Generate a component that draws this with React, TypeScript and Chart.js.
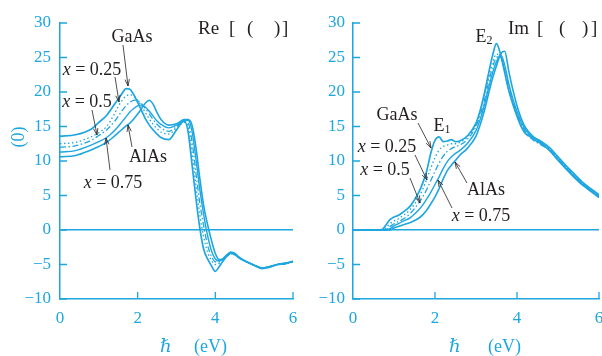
import React, { useEffect, useRef } from 'react';
import { Chart, registerables } from 'chart.js';
Chart.register(...registerables);

const BLUE = '#1ea6e0';
const INK = '#231f20';
const FONT = '"Liberation Serif", "DejaVu Serif", serif';

// ---------- data: Re part (left panel) ----------
const energyRe = [0, 0.4, 0.8, 1.0, 1.2, 1.4, 1.5, 1.6, 1.7, 1.8, 1.9, 2.0, 2.1, 2.2, 2.3, 2.4, 2.5, 2.6, 2.8, 3.0, 3.2, 3.3, 3.4, 3.5, 3.6, 3.7, 3.8, 3.9, 4.0, 4.1, 4.2, 4.3, 4.4, 4.5, 4.6, 4.8, 5.0, 5.2, 5.4, 5.6, 5.8, 6.0];
const reGaAs = [13.6, 13.8, 14.6, 15.6, 16.6, 18.2, 19.0, 19.8, 20.5, 20.4, 19.6, 18.5, 17.3, 16.1, 15.2, 14.5, 13.9, 13.4, 13.1, 14.5, 15.8, 14.2, 9.5, 4.6, 0.3, -2.8, -4.2, -5.2, -6.0, -5.3, -4.5, -3.8, -3.3, -3.4, -3.9, -4.6, -5.1, -5.6, -5.4, -5.0, -4.9, -4.5];
const reX025 = [12.5, 12.7, 13.5, 14.1, 15.0, 16.8, 17.9, 18.8, 19.4, 19.6, 19.4, 18.8, 18.0, 17.0, 16.1, 15.3, 14.7, 14.2, 13.9, 14.8, 15.6, 15.0, 11.2, 6.5, 2.2, -1.0, -3.2, -4.4, -5.0, -4.8, -4.3, -3.8, -3.5, -3.5, -3.9, -4.6, -5.1, -5.5, -5.4, -5.0, -4.9, -4.6];
const reX050 = [12.0, 12.2, 13.0, 13.7, 14.5, 15.7, 16.5, 17.3, 18.0, 18.5, 18.8, 18.7, 18.3, 17.6, 16.8, 16.0, 15.3, 14.8, 14.3, 15.0, 15.7, 15.5, 12.8, 8.3, 3.9, 0.6, -2.2, -3.8, -4.6, -4.6, -4.2, -3.7, -3.5, -3.6, -4.0, -4.6, -5.1, -5.5, -5.3, -5.0, -4.9, -4.6];
const reX075 = [11.3, 11.5, 12.3, 12.8, 13.4, 14.4, 15.0, 15.7, 16.4, 17.1, 17.6, 18.0, 18.1, 17.8, 17.2, 16.5, 15.8, 15.3, 14.8, 15.2, 15.8, 15.9, 14.3, 10.3, 5.9, 2.2, -0.8, -3.0, -4.2, -4.5, -4.1, -3.6, -3.3, -3.5, -4.0, -4.6, -5.1, -5.5, -5.3, -5.0, -4.8, -4.6];
const reAlAs = [10.6, 10.8, 11.6, 12.1, 12.7, 13.6, 14.1, 14.6, 15.1, 15.5, 16.1, 16.8, 17.6, 18.4, 18.8, 18.2, 17.0, 16.0, 15.2, 15.4, 16.0, 16.0, 15.2, 12.0, 7.5, 3.5, 0.8, -1.5, -3.4, -4.3, -4.2, -3.6, -3.2, -3.4, -4.0, -4.6, -5.1, -5.5, -5.3, -5.0, -4.8, -4.6];

// ---------- data: Im part (right panel) ----------
const energyIm = [0, 0.6, 0.7, 0.8, 0.9, 1.0, 1.1, 1.2, 1.4, 1.6, 1.7, 1.8, 1.9, 2.0, 2.1, 2.2, 2.3, 2.4, 2.5, 2.6, 2.8, 3.0, 3.1, 3.2, 3.3, 3.4, 3.5, 3.6, 3.7, 3.8, 3.9, 4.0, 4.1, 4.2, 4.4, 4.6, 4.8, 5.0, 5.2, 5.4, 5.6, 5.8, 6.0];
const imGaAs = [0, 0, 0.05, 0.7, 1.5, 1.9, 2.1, 2.5, 3.5, 5.4, 6.8, 8.6, 11.2, 13.0, 13.5, 12.8, 12.9, 13.1, 12.8, 12.9, 13.7, 15.5, 17.3, 19.7, 22.5, 25.2, 27.0, 25.4, 22.8, 20.2, 18.2, 16.5, 15.0, 14.0, 13.4, 12.8, 11.9, 10.6, 9.3, 8.1, 6.9, 6.0, 5.1];
const imX025 = [0, 0, 0, 0.3, 0.9, 1.3, 1.6, 2.0, 3.0, 4.7, 5.9, 7.4, 9.0, 10.5, 11.6, 12.1, 12.3, 12.5, 12.5, 12.7, 13.5, 15.3, 17.0, 19.2, 21.8, 24.2, 25.5, 25.0, 22.8, 20.3, 18.4, 16.7, 15.2, 14.1, 13.1, 12.5, 11.7, 10.4, 9.1, 7.9, 6.8, 5.9, 5.0];
const imX050 = [0, 0, 0, 0.1, 0.5, 0.9, 1.2, 1.5, 2.4, 3.9, 4.8, 5.9, 7.2, 8.5, 9.7, 10.7, 11.4, 11.8, 12.1, 12.3, 13.2, 15.0, 16.6, 18.7, 21.2, 23.5, 25.0, 25.2, 23.2, 20.6, 18.6, 16.9, 15.4, 14.3, 13.0, 12.3, 11.6, 10.3, 9.0, 7.8, 6.7, 5.8, 4.9];
const imX075 = [0, 0, 0, 0, 0.2, 0.6, 0.9, 1.2, 1.8, 2.9, 3.6, 4.5, 5.5, 6.6, 7.7, 8.9, 9.9, 10.6, 11.1, 11.5, 12.6, 14.4, 16.0, 18.0, 20.4, 22.7, 24.4, 25.4, 23.9, 21.2, 19.0, 17.2, 15.7, 14.6, 13.2, 12.4, 11.5, 10.2, 8.9, 7.7, 6.6, 5.7, 4.8];
const imAlAs = [0, 0, 0, 0, 0, 0.3, 0.5, 0.7, 1.1, 1.7, 2.2, 2.9, 3.8, 4.8, 6.0, 7.4, 8.6, 9.4, 10.1, 10.8, 11.9, 13.6, 15.2, 17.2, 19.6, 21.9, 23.8, 25.5, 25.9, 23.0, 20.3, 18.0, 16.2, 14.9, 13.5, 12.6, 11.5, 10.1, 8.8, 7.6, 6.5, 5.6, 4.7];

const seriesNames = ['GaAs', 'x = 0.25', 'x = 0.5', 'x = 0.75', 'AlAs'];
const yTicks = [-10, -5, 0, 5, 10, 15, 20, 25, 30];
const xTicks = [0, 2, 4, 6];

const seriesDash: number[][] = [[], [1.5, 2.5], [6, 2.5, 1.5, 2.5], [], []];
const seriesWidth = [1.7, 1.3, 1.3, 1.4, 1.6];

type Seg = { t: string; italic?: boolean; sub?: boolean };
type Label = { segs: Seg[]; cx: number; base: number; arrow?: [number, number, number, number] };

interface PanelSpec {
  offset: number;
  width: number;
  yAxisWidth: number;
  padRight: number;
  energies: number[];
  series: number[][];
  title: [string, number][];
  labels: Label[];
  hbarX: number;
  evX: number;
  showYTitle: boolean;
  yLabelPad: number;
}

const xs = (v: string): Seg[] => [{ t: 'x', italic: true }, { t: ' = ' + v }];

function drawRich(ctx: CanvasRenderingContext2D, segs: Seg[], cx: number, base: number, size: number) {
  const fontFor = (s: Seg) => `${s.italic ? 'italic ' : ''}${s.sub ? Math.round(size * 0.68) : size}px ${FONT}`;
  const widths = segs.map((s) => { ctx.font = fontFor(s); return ctx.measureText(s.t).width; });
  const total = widths.reduce((a, b) => a + b, 0);
  let x = cx - total / 2;
  segs.forEach((s, i) => {
    ctx.font = fontFor(s);
    ctx.fillText(s.t, x, s.sub ? base + size * 0.12 : base);
    x += widths[i];
  });
}

function drawArrow(ctx: CanvasRenderingContext2D, x1: number, y1: number, x2: number, y2: number) {
  ctx.beginPath();
  ctx.moveTo(x1, y1);
  ctx.lineTo(x2, y2);
  const a = Math.atan2(y2 - y1, x2 - x1);
  const L = 7, w = 0.32;
  ctx.moveTo(x2 - L * Math.cos(a - w), y2 - L * Math.sin(a - w));
  ctx.lineTo(x2, y2);
  ctx.lineTo(x2 - L * Math.cos(a + w), y2 - L * Math.sin(a + w));
  ctx.stroke();
}

function makeOverlay(spec: PanelSpec) {
  return {
    id: 'overlay',
    afterDraw(chart: any) {
      const { ctx, chartArea, scales } = chart;
      const off = spec.offset;
      ctx.save();
      ctx.strokeStyle = BLUE;
      ctx.lineWidth = 1.3;
      ctx.beginPath();
      for (const v of yTicks) {
        const y = scales.y.getPixelForValue(v);
        ctx.moveTo(chartArea.left, y);
        ctx.lineTo(chartArea.left + 7, y);
      }
      for (const v of xTicks) {
        if (v === 0) continue;
        const x = scales.x.getPixelForValue(v);
        ctx.moveTo(x, chartArea.bottom);
        ctx.lineTo(x, chartArea.bottom - 7);
      }
      ctx.stroke();

      ctx.fillStyle = INK;
      ctx.textAlign = 'left';
      ctx.textBaseline = 'alphabetic';
      ctx.font = `19px ${FONT}`;
      for (const [t, x] of spec.title) ctx.fillText(t, x - off, 34);

      ctx.strokeStyle = INK;
      ctx.lineWidth = 0.8;
      for (const lb of spec.labels) {
        drawRich(ctx, lb.segs, lb.cx - off, lb.base, 18);
        if (lb.arrow) {
          const [a, b, c, d] = lb.arrow;
          drawArrow(ctx, a - off, b, c - off, d);
        }
      }

      ctx.fillStyle = BLUE;
      ctx.font = `italic 18px ${FONT}`;
      ctx.fillText('\u210F', spec.hbarX - off, 352);
      ctx.font = `18px ${FONT}`;
      ctx.fillText('(eV)', spec.evX - off, 352);

      if (spec.showYTitle) {
        ctx.save();
        ctx.translate(19, 137);
        ctx.rotate(-Math.PI / 2);
        ctx.textAlign = 'center';
        ctx.textBaseline = 'middle';
        ctx.font = `18px ${FONT}`;
        ctx.fillText('(0)', 0, 0);
        ctx.restore();
      }
      ctx.restore();
    },
  };
}

function buildConfig(spec: PanelSpec): any {
  const datasets = spec.series.map((vals, i) => ({
    label: seriesNames[i],
    data: spec.energies.map((e, j) => ({ x: e, y: vals[j] })),
    borderColor: BLUE,
    backgroundColor: BLUE,
    borderWidth: seriesWidth[i],
    borderDash: seriesDash[i],
    pointRadius: 0,
    cubicInterpolationMode: 'monotone',
    fill: false,
  }));
  const tickFont = { family: FONT, size: 17 };
  return {
    type: 'line',
    data: { datasets },
    options: {
      animation: false,
      responsive: false,
      devicePixelRatio: 1,
      layout: { padding: { top: 23, left: 0, right: spec.padRight, bottom: 0 } },
      plugins: { legend: { display: false }, tooltip: { enabled: false } },
      scales: {
        x: {
          type: 'linear',
          min: 0,
          max: 6,
          afterBuildTicks: (s: any) => { s.ticks = xTicks.map((v) => ({ value: v })); },
          afterFit: (s: any) => { s.height = 57; s.paddingLeft = 0; s.paddingRight = 0; },
          ticks: { color: BLUE, font: tickFont, padding: 9, autoSkip: false, maxRotation: 0 },
          grid: { display: false, drawTicks: false },
          border: { display: true, color: BLUE, width: 1.5 },
        },
        y: {
          type: 'linear',
          min: -10,
          max: 30,
          afterBuildTicks: (s: any) => { s.ticks = yTicks.map((v) => ({ value: v })); },
          afterFit: (s: any) => { s.width = spec.yAxisWidth; s.paddingTop = 0; s.paddingBottom = 0; },
          ticks: {
            color: BLUE,
            font: tickFont,
            padding: spec.yLabelPad,
            autoSkip: false,
            callback: (v: number) => (v < 0 ? '\u2212' + Math.abs(v) : String(v)),
          },
          grid: {
            display: true,
            drawTicks: false,
            drawOnChartArea: true,
            color: (c: any) => (c.tick && c.tick.value === 0 ? BLUE : 'rgba(0,0,0,0)'),
            lineWidth: 1.5,
          },
          border: { display: true, color: BLUE, width: 1.5 },
        },
      },
    },
    plugins: [makeOverlay(spec)],
  };
}

const leftSpec: PanelSpec = {
  offset: 0,
  width: 300,
  yAxisWidth: 60,
  padRight: 7,
  yLabelPad: 9,
  energies: energyRe,
  series: [reGaAs, reX025, reX050, reX075, reAlAs],
  title: [['Re', 198], ['[', 229], ['(', 247], [')', 274], [']', 282]],
  labels: [
    { segs: [{ t: 'GaAs' }], cx: 132, base: 42, arrow: [123, 45, 128, 86] },
    { segs: xs('0.25'), cx: 92, base: 75, arrow: [115, 77, 119, 102] },
    { segs: xs('0.5'), cx: 87, base: 107, arrow: [92, 110, 97, 135] },
    { segs: [{ t: 'AlAs' }], cx: 148, base: 162, arrow: [132, 147, 128, 125] },
    { segs: xs('0.75'), cx: 113, base: 188, arrow: [110, 170, 106, 138] },
  ],
  hbarX: 160,
  evX: 194,
  showYTitle: true,
};

const rightSpec: PanelSpec = {
  offset: 300,
  width: 302,
  yAxisWidth: 53,
  padRight: 3,
  yLabelPad: 8,
  energies: energyIm,
  series: [imGaAs, imX025, imX050, imX075, imAlAs],
  title: [['Im', 508], ['[', 537], ['(', 559], [')', 582], [']', 591]],
  labels: [
    { segs: [{ t: 'E' }, { t: '2', sub: true }], cx: 484, base: 42 },
    { segs: [{ t: 'GaAs' }], cx: 397, base: 120, arrow: [418, 123, 431, 148] },
    { segs: [{ t: 'E' }, { t: '1', sub: true }], cx: 442, base: 131 },
    { segs: xs('0.25'), cx: 387, base: 152, arrow: [415, 155, 427, 180] },
    { segs: xs('0.5'), cx: 385, base: 175, arrow: [410, 178, 420, 203] },
    { segs: [{ t: 'AlAs' }], cx: 486, base: 195, arrow: [467, 183, 455, 162] },
    { segs: xs('0.75'), cx: 481, base: 221, arrow: [452, 208, 438, 180] },
  ],
  hbarX: 449,
  evX: 488,
  showYTitle: false,
};

function Panel({ spec }: { spec: PanelSpec }) {
  const ref = useRef<HTMLCanvasElement>(null);
  useEffect(() => {
    const chart = new Chart(ref.current as HTMLCanvasElement, buildConfig(spec));
    return () => chart.destroy();
  }, [spec]);
  return (
    <canvas
      ref={ref}
      width={spec.width}
      height={356}
      style={{ position: 'absolute', left: spec.offset, top: 0, width: spec.width, height: 356 }}
    />
  );
}

export default function App() {
  return (
    <div style={{ position: 'fixed', left: 0, top: 0, width: 602, height: 356, background: '#fff', overflow: 'hidden' }}>
      <Panel spec={leftSpec} />
      <Panel spec={rightSpec} />
    </div>
  );
}
